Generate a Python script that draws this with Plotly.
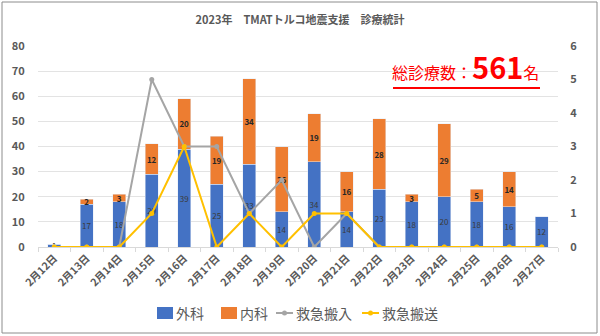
import plotly.graph_objects as go

dates = ["2月12日", "2月13日", "2月14日", "2月15日", "2月16日", "2月17日", "2月18日", "2月19日",
         "2月20日", "2月21日", "2月22日", "2月23日", "2月24日", "2月25日", "2月26日", "2月27日"]
geka = [1, 17, 18, 29, 39, 25, 33, 14, 34, 14, 23, 18, 20, 18, 16, 12]
naika = [0, 2, 3, 12, 20, 19, 34, 26, 19, 16, 28, 3, 29, 5, 14, 0]
hannyu = [0, 0, 0, 5, 3, 3, 1, 2, 0, 1, 0, 0, 0, 0, 0, 0]
hanso = [0, 0, 0, 1, 3, 0, 1, 0, 1, 1, 0, 0, 0, 0, 0, 0]

series_names = ["外科", "内科", "救急搬入", "救急搬送"]
colors = ["#4472C4", "#ED7D31", "#A5A5A5", "#FFC000"]

FONT = "Noto Sans CJK JP"
GRAY = "#595959"

# plot area in pixels
L, R, T, B = 38, 42, 46, 89
W, H = 600, 336
pw, ph = W - L - R, H - T - B

def px(x):
    return (x - L) / pw

def py(y):
    return (H - B - y) / ph

fig = go.Figure()
fig.add_trace(go.Bar(
    x=dates, y=geka, name=series_names[0], marker=dict(color=colors[0]),
    text=[str(v) for v in geka], textposition="inside", insidetextanchor="middle",
    textfont=dict(family=FONT, size=8, color="#3A3A3A"), textangle=0,
))
fig.add_trace(go.Bar(
    x=dates, y=naika, name=series_names[1], marker=dict(color=colors[1]),
    text=["<b>%d</b>" % v for v in naika], textposition="inside", insidetextanchor="middle",
    textfont=dict(family=FONT, size=8, color="#262626"), textangle=0,
))
fig.add_trace(go.Scatter(
    x=dates, y=hannyu, name=series_names[2], yaxis="y2", mode="lines+markers",
    line=dict(color=colors[2], width=2), marker=dict(color=colors[2], size=5),
))
fig.add_trace(go.Scatter(
    x=dates, y=hanso, name=series_names[3], yaxis="y2", mode="lines+markers",
    line=dict(color=colors[3], width=2), marker=dict(color=colors[3], size=5),
))

fig.update_layout(
    width=W, height=H, margin=dict(l=L, r=R, t=T, b=B, autoexpand=False),
    paper_bgcolor="white", plot_bgcolor="white",
    barmode="stack", bargap=0.6, showlegend=False,
    font=dict(family=FONT, color=GRAY),
    uniformtext=dict(minsize=8, mode="show"),
    title=dict(text="<b>2023年　TMATトルコ地震支援　診療統計</b>", x=0.5, xanchor="center",
               y=1 - 20 / H, yanchor="middle", font=dict(family=FONT, size=11, color=GRAY)),
    xaxis=dict(type="category", tickangle=-45, automargin=False, range=[-0.5, len(dates) - 0.5],
               tickfont=dict(family=FONT, size=10.5, color=GRAY, weight="bold"),
               showline=True, linecolor="#D9D9D9", ticks="outside", tickson="boundaries",
               ticklen=4, tickcolor="#D9D9D9", showgrid=False),
    yaxis=dict(range=[0, 80], dtick=10, showgrid=True, gridcolor="#E3E3E3", zeroline=False,
               automargin=False, ticks="outside", ticklen=10, tickcolor="rgba(0,0,0,0)",
               tickfont=dict(family=FONT, size=11, color=GRAY, weight="bold")),
    yaxis2=dict(range=[0, 6], dtick=1, overlaying="y", side="right", showgrid=False, zeroline=False,
                automargin=False, ticks="outside", ticklen=9, tickcolor="rgba(0,0,0,0)",
                tickfont=dict(family=FONT, size=11, color=GRAY, weight="bold")),
)

# custom legend (compact, like the original)
leg_y = 313
leg_items = [(157, "box"), (221, "box"), (276, "line"), (362, "line")]
for (x0, kind), name, col in zip(leg_items, series_names, colors):
    if kind == "box":
        fig.add_shape(type="rect", xref="paper", yref="paper", x0=px(x0), x1=px(x0 + 16),
                      y0=py(leg_y + 6), y1=py(leg_y - 6), fillcolor=col, line=dict(width=0))
        tx = x0 + 17
    else:
        fig.add_shape(type="line", xref="paper", yref="paper", x0=px(x0), x1=px(x0 + 17),
                      y0=py(leg_y), y1=py(leg_y), line=dict(color=col, width=2))
        fig.add_shape(type="circle", xref="paper", yref="paper", x0=px(x0 + 6), x1=px(x0 + 11),
                      y0=py(leg_y + 2.5), y1=py(leg_y - 2.5), fillcolor=col, line=dict(width=0))
        tx = x0 + 18
    fig.add_annotation(xref="paper", yref="paper", x=px(tx), y=py(leg_y), xanchor="left",
                       yanchor="middle", text=name, showarrow=False,
                       font=dict(family=FONT, size=14, color=GRAY))

fig.add_annotation(
    xref="paper", yref="paper", x=px(465), y=py(89), xanchor="center", yanchor="bottom",
    text="<span style='font-size:16px'>総診療数：</span><b><span style='font-size:29px'>561</span></b><span style='font-size:16px'>名</span>",
    showarrow=False, font=dict(family=FONT, color="#FF0000"),
)
fig.add_shape(type="line", xref="paper", yref="paper", x0=px(393), x1=px(540), y0=py(88), y1=py(88),
              line=dict(color="#FF0000", width=2))
fig.add_shape(type="rect", xref="paper", yref="paper", x0=px(2), x1=px(597), y0=py(333), y1=py(2),
              line=dict(color="#8C8C8C", width=1), layer="below")

fig.write_html("out.html")
